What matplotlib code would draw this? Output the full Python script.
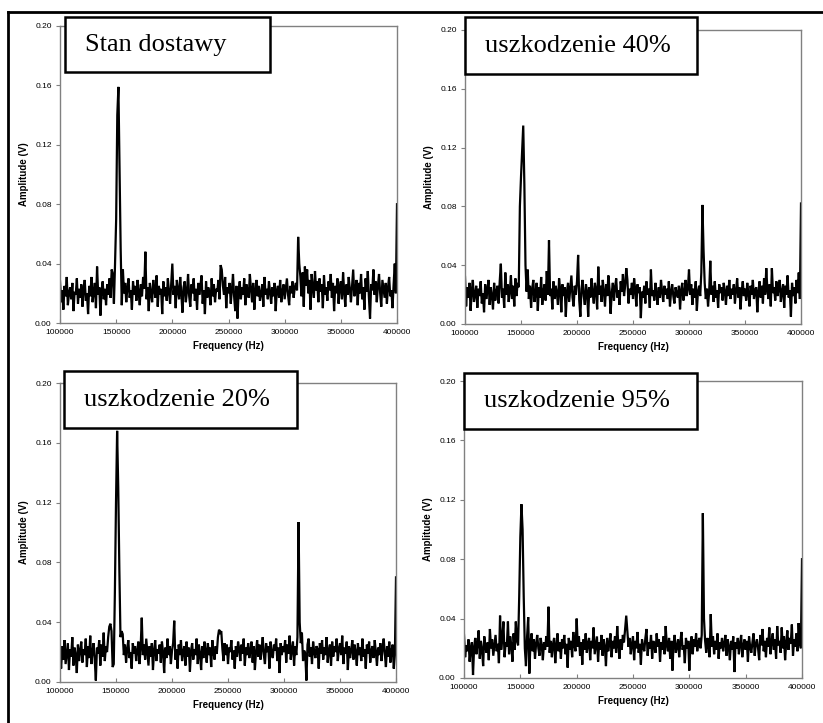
import numpy as np
import matplotlib.pyplot as plt
from matplotlib.patches import Rectangle
from matplotlib.lines import Line2D

# Frequency grid in kHz (1 kHz step), amplitudes in mV
freq_khz = np.arange(100, 401)

amp_stan = [
    28, 14, 22, 9, 25, 18, 31, 12, 20, 24,
    16, 27, 8, 21, 19, 30, 13, 23, 17, 26,
    11, 22, 29, 15, 20, 6, 25, 18, 31, 14,
    21, 27, 10, 38, 19, 24, 5, 22, 28, 16,
    23, 12, 26, 19, 30, 17, 36, 33, 13, 40,
    70, 140, 159, 105, 50, 12, 36, 20, 27, 14,
    24, 30, 17, 22, 9, 28, 19, 25, 15, 29,
    21, 12, 26, 18, 31, 23, 48, 16, 24, 8,
    27, 20, 14, 29, 22, 17, 32, 11, 25, 19,
    23, 6, 28, 18, 24, 15, 30, 21, 13, 26,
    40, 19, 25, 10, 29, 22, 16, 31, 20, 7,
    24, 28, 14, 21, 33, 18, 11, 26, 20, 30,
    15, 23, 9, 27, 19, 25, 32, 13, 22, 6,
    28, 17, 24, 20, 12, 30, 18, 26, 14, 23,
    21, 29, 16, 39, 36, 25, 19, 31, 10, 24,
    20, 27, 13, 22, 33, 18, 8, 25, 3, 21,
    28, 16, 24, 19, 30, 12, 26, 21, 17, 33,
    23, 14, 27, 9, 22, 29, 18, 25, 15, 20,
    26, 11, 31, 19, 23, 16, 28, 21, 13, 24,
    18, 27, 8, 22, 25, 17, 29, 14, 21, 26,
    16, 23, 30, 19, 12, 25, 20, 28, 17, 24,
    27, 22, 58, 40, 31, 18, 34, 11, 38, 25,
    36, 20, 29, 9, 33, 24, 17, 35, 22, 28,
    14, 30, 21, 26, 10, 32, 19, 24, 15, 28,
    22, 33, 17, 27, 8, 25, 20, 30, 13, 24,
    28, 16, 34, 21, 11, 26, 19, 31, 23, 14,
    25, 36, 18, 22, 29, 12, 27, 20, 33, 16,
    24, 9, 30, 21, 35, 17, 3, 26, 22, 36,
    19, 28, 14, 25, 33, 20, 11, 29, 23, 17,
    27, 13, 24, 31, 18, 22, 10, 26, 40, 20,
    80,
]

amp_40 = [
    32, 12, 25, 18, 28, 9, 22, 30, 15, 20,
    26, 11, 24, 19, 29, 14, 21, 8, 27, 17,
    23, 30, 13, 25, 19, 10, 28, 16, 22, 26,
    14, 29, 41, 18, 24, 11, 35, 20, 27, 15,
    22, 33, 17, 26, 12, 31, 19, 28, 25, 80,
    100, 118, 135, 95, 40, 22, 37, 17, 26, 11,
    24, 30, 15, 21, 28, 9, 25, 18, 32, 13,
    22, 27, 16, 36, 20, 57, 19, 24, 10, 29,
    17, 26, 21, 13, 31, 23, 8, 27, 19, 25,
    5, 22, 28, 15, 24, 33, 18, 12, 26, 20,
    29, 47, 16, 5, 24, 30, 19, 13, 27, 22,
    5, 25, 18, 31, 21, 14, 28, 23, 10, 39,
    20, 26, 15, 30, 22, 12, 27, 19, 33, 24,
    7, 21, 28, 16, 25, 31, 18, 23, 13, 29,
    22, 34, 19, 26, 38, 30, 14, 24, 20, 28,
    17, 31, 23, 12, 27, 21, 25, 4, 22, 18,
    26, 14, 29, 20, 24, 11, 37, 19, 23, 16,
    28, 21, 13, 25, 18, 30, 22, 15, 26, 20,
    24, 17, 29, 12, 22, 27, 19, 14, 25, 21,
    18, 26, 10, 23, 28, 16, 21, 30, 19, 24,
    37, 20, 27, 13, 24, 18, 29, 9, 22, 26,
    19, 35, 81, 50, 28, 17, 24, 12, 22, 43,
    20, 26, 15, 29, 18, 23, 11, 27, 21, 25,
    16, 28, 22, 13, 26, 19, 30, 17, 24, 20,
    27, 14, 23, 31, 18, 25, 10, 22, 29, 19,
    24, 16, 28, 21, 12, 26, 20, 30, 17, 23,
    25, 8, 22, 29, 18, 26, 14, 31, 20, 38,
    23, 17, 27, 12, 38, 21, 25, 16, 29, 19,
    24, 30, 15, 22, 27, 11, 26, 20, 33, 18,
    23, 5, 28, 19, 25, 14, 30, 21, 35, 17,
    82,
]

amp_20 = [
    20, 9, 24, 15, 28, 12, 19, 26, 8, 22,
    17, 30, 11, 23, 18, 6, 25, 14, 21, 27,
    13, 22, 18, 29, 10, 24, 16, 31, 12, 20,
    26, 15, 1, 23, 19, 28, 11, 25, 17, 33,
    14, 24, 20, 30, 37, 39, 34, 10, 12, 60,
    120, 168, 130, 75, 30, 34, 32, 18, 25, 13,
    22, 28, 16, 20, 9, 26, 19, 24, 14, 21,
    27, 12, 23, 43, 18, 25, 15, 29, 20, 11,
    24, 17, 26, 8, 21, 28, 14, 22, 19, 25,
    13, 27, 20, 6, 23, 16, 29, 18, 24, 12,
    21, 26, 41, 15, 22, 9, 25, 18, 28, 14,
    20, 24, 11, 27, 17, 23, 7, 21, 26, 15,
    22, 18, 29, 12, 25, 19, 8, 24, 16, 27,
    21, 13, 26, 18, 23, 10, 28, 20, 15, 24,
    19, 30, 35, 33, 34, 22, 14, 26, 18, 25,
    12, 23, 20, 28, 15, 21, 9, 24, 17, 27,
    22, 14, 25, 19, 29, 11, 23, 18, 26, 16,
    21, 27, 13, 24, 8, 20, 28, 17, 25, 15,
    22, 30, 18, 12, 26, 20, 24, 9, 27, 19,
    16, 25, 21, 29, 14, 23, 6, 26, 18, 24,
    20, 28, 13, 25, 19, 31, 15, 22, 27, 11,
    24, 18, 30, 107, 40, 26, 33, 14, 21, 19,
    1, 25, 29, 17, 23, 12, 27, 20, 16, 24,
    22, 9, 26, 19, 28, 15, 23, 18, 30, 13,
    21, 25, 11, 27, 17, 24, 20, 29, 14, 22,
    26, 18, 31, 12, 23, 19, 27, 8, 24, 16,
    21, 28, 15, 25, 20, 11, 26, 18, 23, 14,
    29, 17, 22, 9, 25, 19, 27, 13, 21, 24,
    16, 28, 20, 11, 23, 18, 26, 14, 22, 29,
    19, 10, 24, 17, 27, 13, 21, 25, 9, 18,
    70,
]

amp_95 = [
    29, 14, 22, 18, 26, 11, 20, 24, 2, 21,
    27, 16, 23, 32, 13, 25, 19, 8, 28, 21,
    17, 24, 12, 33, 20, 26, 15, 22, 29, 18,
    23, 10, 42, 19, 27, 38, 14, 24, 21, 38,
    16, 28, 22, 11, 30, 19, 38, 25, 22, 55,
    95, 117, 100, 55, 20, 8, 28, 41, 3, 24,
    30, 18, 26, 13, 23, 29, 20, 15, 27, 22,
    12, 24, 19, 28, 21, 48, 17, 25, 14, 23,
    27, 10, 22, 30, 18, 24, 13, 26, 20, 29,
    16, 23, 7, 27, 19, 25, 14, 31, 22, 18,
    40, 21, 28, 15, 24, 9, 26, 19, 30, 17,
    23, 27, 12, 25, 20, 34, 16, 22, 28, 11,
    24, 19, 29, 15, 26, 21, 8, 27, 18, 23,
    30, 14, 25, 20, 28, 17, 35, 22, 13, 26,
    19, 29, 24, 33, 42, 31, 21, 27, 16, 23,
    28, 12, 25, 20, 31, 17, 23, 9, 26, 21,
    18, 27, 33, 15, 24, 20, 29, 13, 25, 22,
    17, 30, 21, 26, 11, 24, 19, 28, 16, 35,
    22, 18, 27, 13, 25, 5, 23, 29, 17, 21,
    26, 14, 24, 31, 19, 22, 10, 27, 20, 25,
    5, 23, 28, 16, 26, 21, 30, 18, 24, 27,
    20, 29, 111, 40, 25, 17, 27, 22, 14, 43,
    21, 28, 16, 25, 19, 30, 13, 24, 20, 27,
    18, 23, 29, 15, 26, 21, 12, 25, 19, 28,
    4, 24, 20, 27, 16, 23, 29, 14, 22, 26,
    19, 25, 11, 28, 21, 17, 24, 30, 15, 23,
    26, 20, 12, 29, 22, 33, 18, 25, 14, 27,
    21, 34, 16, 24, 30, 19, 26, 13, 35, 22,
    25, 17, 34, 20, 28, 12, 24, 32, 19, 27,
    23, 36, 15, 26, 21, 30, 18, 37, 24, 20,
    80,
]

titles = ["Stan dostawy", "uszkodzenie 40%", "uszkodzenie 20%", "uszkodzenie 95%"]
series = [amp_stan, amp_40, amp_20, amp_95]
x_ticks = [100000, 150000, 200000, 250000, 300000, 350000, 400000]
y_ticks = [0.00, 0.04, 0.08, 0.12, 0.16, 0.20]

W, H = 823, 723
fig = plt.figure(figsize=(W / 100, H / 100), dpi=100)

# axes rectangles in pixels: left, top, right, bottom
axes_px = [(60, 26, 397, 323), (465, 30, 801, 324),
           (60, 383, 396, 682), (464, 381, 802, 678)]
# label boxes in pixels
boxes_px = [(65, 17, 270, 72), (465, 17, 697, 74),
            (64, 371, 297, 428), (464, 373, 697, 429)]

sans = "Liberation Sans"
for (l, t, r, b), title, amp, (bl, bt, br, bb) in zip(axes_px, titles, series, boxes_px):
    ax = fig.add_axes([l / W, 1 - b / H, (r - l) / W, (b - t) / H])
    ax.plot(freq_khz * 1000, np.array(amp) / 1000, color="black", lw=1.6,
            solid_joinstyle="miter")
    ax.set_xlim(100000, 400000)
    ax.set_ylim(0, 0.20)
    ax.set_xticks(x_ticks)
    ax.set_xticklabels([str(v) for v in x_ticks], fontsize=6, family=sans)
    ax.set_yticks(y_ticks)
    ax.set_yticklabels(["%.2f" % v for v in y_ticks], fontsize=6, family=sans)
    ax.tick_params(axis="x", direction="in", length=3, color="#808080", pad=4)
    ax.tick_params(axis="y", direction="out", length=3, color="#808080", pad=3)
    for s in ax.spines.values():
        s.set_color("#808080")
        s.set_linewidth(1.0)
    ax.set_xlabel("Frequency (Hz)", fontsize=7, fontweight="bold", family=sans, labelpad=4)
    ax.set_ylabel("Amplitude (V)", fontsize=7, fontweight="bold", family=sans, labelpad=4)

    fig.add_artist(Rectangle((bl / W, 1 - bb / H), (br - bl) / W, (bb - bt) / H,
                             transform=fig.transFigure, facecolor="white",
                             edgecolor="black", lw=1.8, zorder=5))
    fig.text((bl + 20) / W, 1 - (bt + bb) / 2 / H, title, fontsize=19,
             family="Liberation Serif", va="center", ha="left", zorder=6)

# outer frame: top and left edge
fig.add_artist(Line2D([8 / W, 1], [1 - 12 / H, 1 - 12 / H], color="black", lw=2,
                      transform=fig.transFigure))
fig.add_artist(Line2D([8 / W, 8 / W], [1 - 12 / H, 0], color="black", lw=2,
                      transform=fig.transFigure))

fig.savefig("out.png", dpi=100)
